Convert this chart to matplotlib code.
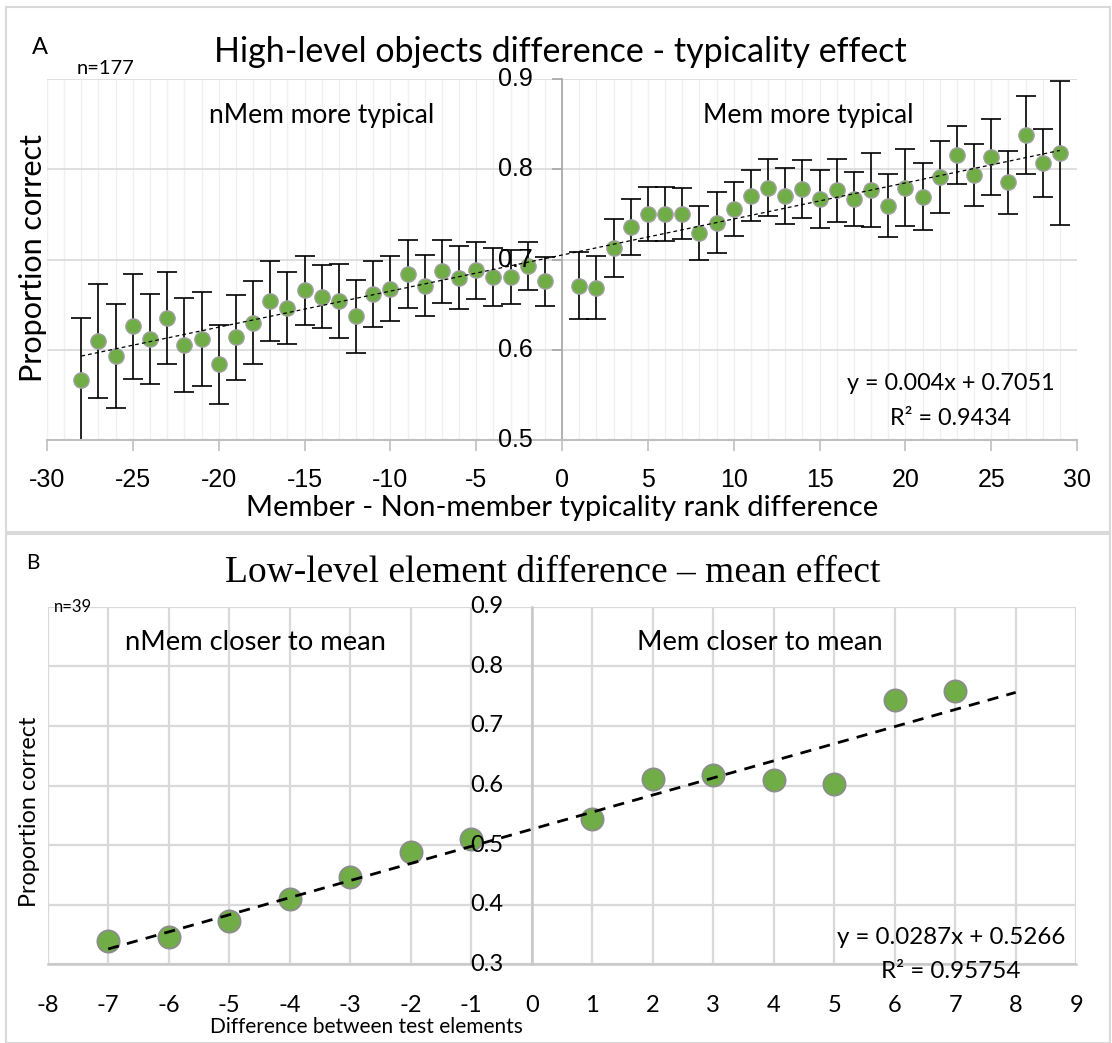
import numpy as np
import matplotlib
matplotlib.use("Agg")
import matplotlib.pyplot as plt
from matplotlib.patches import Rectangle
from matplotlib.transforms import ScaledTranslation

# ---------------- Data ----------------
# Panel A: high-level objects difference (typicality effect)
xA = [-28, -27, -26, -25, -24, -23, -22, -21, -20, -19, -18, -17, -16, -15,
      -14, -13, -12, -11, -10, -9, -8, -7, -6, -5, -4, -3, -2, -1,
      1, 2, 3, 4, 5, 6, 7, 8, 9, 10, 11, 12, 13, 14, 15, 16, 17, 18, 19,
      20, 21, 22, 23, 24, 25, 26, 27, 28, 29]
yA = [0.567, 0.610, 0.593, 0.626, 0.612, 0.635, 0.605, 0.612, 0.584, 0.614,
      0.630, 0.654, 0.646, 0.666, 0.659, 0.654, 0.637, 0.662, 0.668, 0.684,
      0.671, 0.687, 0.680, 0.688, 0.681, 0.681, 0.693, 0.676,
      0.671, 0.669, 0.713, 0.736, 0.751, 0.751, 0.751, 0.730, 0.741, 0.756,
      0.771, 0.780, 0.771, 0.778, 0.767, 0.777, 0.767, 0.777, 0.760, 0.780,
      0.770, 0.792, 0.816, 0.794, 0.814, 0.786, 0.838, 0.807, 0.818]
errA = [0.068, 0.063, 0.058, 0.058, 0.050, 0.051, 0.052, 0.052, 0.044, 0.047,
        0.046, 0.044, 0.040, 0.038, 0.035, 0.041, 0.040, 0.037, 0.036, 0.038,
        0.034, 0.035, 0.035, 0.032, 0.032, 0.030, 0.027, 0.027,
        0.037, 0.035, 0.032, 0.031, 0.030, 0.030, 0.028, 0.030, 0.034, 0.030,
        0.028, 0.032, 0.031, 0.032, 0.032, 0.035, 0.030, 0.041, 0.035, 0.043,
        0.037, 0.040, 0.032, 0.034, 0.042, 0.035, 0.043, 0.038, 0.080]
slopeA, interceptA = 0.004, 0.7051
eqA = "y = 0.004x + 0.7051"
r2A = "R² = 0.9434"
yticksA = [0.5, 0.6, 0.7, 0.8, 0.9]

# Panel B: low-level element difference (mean effect)
xB = [-7, -6, -5, -4, -3, -2, -1, 1, 2, 3, 4, 5, 6, 7]
yB = [0.339, 0.345, 0.373, 0.410, 0.447, 0.489, 0.511,
      0.544, 0.611, 0.617, 0.610, 0.602, 0.744, 0.759]
slopeB, interceptB = 0.0287, 0.5266
eqB = "y = 0.0287x + 0.5266"
r2B = "R² = 0.95754"
yticksB = [0.3, 0.4, 0.5, 0.6, 0.7, 0.8, 0.9]

W, H = 1112, 1043
GREEN = "#70ad47"
EDGE = "#a0a0a0"
CAL = ["Lato", "DejaVu Sans"]
ARI = ["Liberation Sans", "DejaVu Sans"]

fig = plt.figure(figsize=(W / 100, H / 100), dpi=100)


def ftext(px, py, s, **kw):
    fig.text(px / W, 1 - py / H, s, **kw)


def axes_px(left, top, right, bottom):
    return fig.add_axes([left / W, 1 - bottom / H, (right - left) / W, (bottom - top) / H])


# panel frames
fig.patches.append(Rectangle((6 / W, 1 - 532 / H), 1104 / W, 525 / H, transform=fig.transFigure,
                             fill=False, edgecolor="#d9d9d9", lw=1.5))
fig.patches.append(Rectangle((6 / W, 1 - 1043 / H), 1104 / W, 509 / H, transform=fig.transFigure,
                             fill=False, edgecolor="#d9d9d9", lw=1.5))

# ---------------- Panel A ----------------
axA = axes_px(47, 79.3, 1077, 440)
axA.set_xlim(-30, 30)
axA.set_ylim(0.5, 0.9)
axA.set_xticks(np.arange(-30, 31, 5))
axA.set_xticks(np.arange(-30, 31, 1), minor=True)
axA.set_yticks(yticksA)
axA.set_yticklabels([])
axA.set_xticklabels([str(v) for v in range(-30, 31, 5)])
axA.grid(which="minor", axis="x", color="#f0f0f0", lw=1.0, zorder=0)
axA.grid(which="major", axis="x", color="#f0f0f0", lw=1.0, zorder=0)
axA.grid(which="major", axis="y", color="#dcdcdc", lw=1.3, zorder=0)
for s in ["top", "right"]:
    axA.spines[s].set_visible(False)
axA.spines["left"].set_position(("data", 0))
axA.spines["left"].set_color("#a6a6a6")
axA.spines["bottom"].set_color("#bfbfbf")
axA.spines["left"].set_linewidth(1.2)
axA.spines["bottom"].set_linewidth(1.5)
axA.tick_params(axis="x", which="major", direction="out", length=8, width=1.2,
                color="#bfbfbf", pad=12, labelsize=18)
axA.tick_params(axis="x", which="minor", length=0)
axA.tick_params(axis="y", direction="out", length=7, width=1.2, color="#a6a6a6")
for lab in axA.get_xticklabels():
    lab.set_family(ARI)
axA.set_axisbelow(True)

# y tick labels drawn on top of the data (as in the reference)
offA = axA.transData + ScaledTranslation(-0.29, 0, fig.dpi_scale_trans)
for v in yticksA:
    axA.text(0, v, f"{v:.1f}", transform=offA, ha="right", va="center",
             fontsize=18, family=ARI, zorder=10, clip_on=False)

axA.errorbar(xA, yA, yerr=errA, fmt="none", ecolor="black", elinewidth=1.2,
             capsize=7, capthick=1.2, zorder=2)
axA.plot(xA, yA, "o", ms=11, mfc=GREEN, mec=EDGE, mew=1.0, zorder=3, clip_on=False)
tA = np.array([min(xA), max(xA)], dtype=float)
axA.plot(tA, slopeA * tA + interceptA, ls=(0, (3, 2.5)), color="black", lw=0.9, zorder=4)

ftext(40, 47, "A", fontsize=17, family=CAL, ha="center", va="center")
ftext(105, 69, "n=177", fontsize=14.5, family=CAL, ha="center", va="center")
ftext(560, 52, "High-level objects difference - typicality effect", fontsize=24.5,
      family=CAL, ha="center", va="center")
ftext(322, 115, "nMem more typical", fontsize=19, family=CAL, ha="center", va="center")
ftext(808, 115, "Mem more typical", fontsize=19, family=CAL, ha="center", va="center")
ftext(951, 384, eqA, fontsize=16.8, family=CAL, ha="center", va="center")
ftext(951, 418, r2A, fontsize=16.8, family=CAL, ha="center", va="center")
ftext(562, 508, "Member - Non-member typicality rank difference", fontsize=21,
      family=CAL, ha="center", va="center")
ftext(33, 258, "Proportion correct", fontsize=22, family=CAL, ha="center",
      va="center", rotation=90)

# ---------------- Panel B ----------------
axB = axes_px(47.7, 606.7, 1076.2, 964.3)
axB.set_xlim(-8, 9)
axB.set_ylim(0.3, 0.9)
axB.set_xticks(np.arange(-8, 10, 1))
axB.set_xticklabels([str(v) for v in range(-8, 10)])
axB.set_yticks(yticksB)
axB.set_yticklabels([])
axB.grid(True, color="#d9d9d9", lw=1.6, zorder=0)
for s in ["top", "right"]:
    axB.spines[s].set_visible(False)
axB.spines["left"].set_position(("data", 0))
axB.spines["left"].set_color("#c8c8c8")
axB.spines["bottom"].set_color("#c8c8c8")
axB.spines["left"].set_linewidth(1.8)
axB.spines["bottom"].set_linewidth(1.8)
axB.tick_params(axis="x", length=0, pad=22, labelsize=17)
axB.tick_params(axis="y", length=0)
for lab in axB.get_xticklabels():
    lab.set_family(CAL)
axB.set_axisbelow(True)

offB = axB.transData + ScaledTranslation(-0.285, 0, fig.dpi_scale_trans)
for v in yticksB:
    axB.text(0, v, f"{v:.1f}", transform=offB, ha="right", va="center",
             fontsize=17, family=CAL, zorder=10, clip_on=False)

axB.plot(xB, yB, "o", ms=16, mfc=GREEN, mec="#8c8c8c", mew=1.3, zorder=3, clip_on=False)
tB = np.array([min(xB), max(xB) + 1], dtype=float)
axB.plot(tB, slopeB * tB + interceptB, ls=(0, (4, 3)), color="black", lw=2.0, zorder=4)

ftext(33, 563, "B", fontsize=15, family=CAL, ha="center", va="center")
ftext(73, 607, "n=39", fontsize=12, family=CAL, ha="center", va="center")
ftext(553, 573, "Low-level element difference – mean effect", fontsize=27,
      family=["Liberation Serif", "DejaVu Serif"], ha="center", va="center")
ftext(255, 643, "nMem closer to mean", fontsize=19.7, family=CAL, ha="center", va="center")
ftext(760, 643, "Mem closer to mean", fontsize=19.7, family=CAL, ha="center", va="center")
ftext(951, 937, eqB, fontsize=17.4, family=CAL, ha="center", va="center")
ftext(951, 971, r2B, fontsize=17.4, family=CAL, ha="center", va="center")
ftext(366, 1027, "Difference between test elements", fontsize=15, family=CAL,
      ha="center", va="center")
ftext(30, 812, "Proportion correct", fontsize=16.8, family=CAL, ha="center",
      va="center", rotation=90)

fig.savefig("out.png", dpi=100, facecolor="white")
